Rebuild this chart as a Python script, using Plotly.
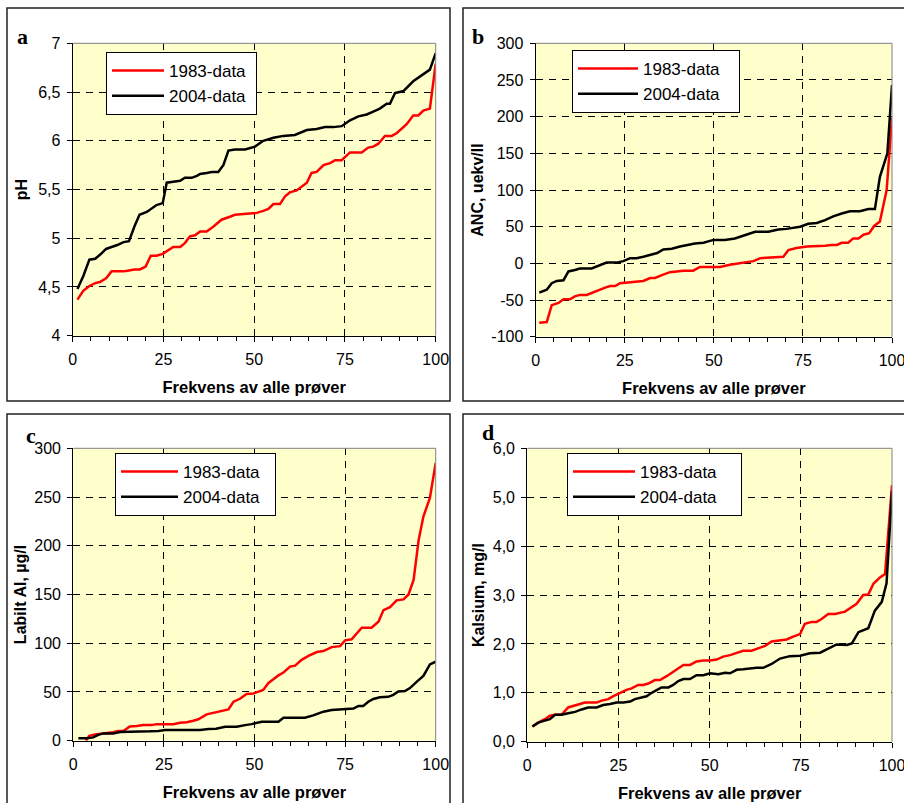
import plotly.graph_objects as go

W, H = 904, 803

# ---------------- DATA ----------------
A_X_1983 = [1.3, 2.9, 4.6, 6.2, 7.5, 9.2, 10.7, 12.3, 14, 15.5, 17, 18.5, 20.1, 21.5, 23.1, 24.8, 26.4, 27.7, 29.6, 30.9,
            32.3, 33.7, 35.1, 36.9, 38.8, 41, 43.3, 44.7, 47.9, 50.7, 52.5, 53.9, 55.3, 57.1, 58.5, 59.8, 61.7, 63.1, 64.5, 65.8,
            67.2, 69.1, 70.9, 72.3, 74.1, 76.4, 79.6, 81.4, 82.8, 84.2, 86, 87.9, 89.3, 92, 93.8, 95.2, 96.6, 98.4, 100]
A_PH_1983 = [4.37, 4.46, 4.51, 4.54, 4.55, 4.59, 4.66, 4.66, 4.66, 4.67, 4.68, 4.68, 4.71, 4.82, 4.82, 4.84, 4.88, 4.91, 4.91, 4.95,
             5.02, 5.03, 5.07, 5.07, 5.12, 5.19, 5.22, 5.24, 5.25, 5.26, 5.28, 5.30, 5.35, 5.35, 5.43, 5.47, 5.49, 5.53, 5.57, 5.67,
             5.68, 5.75, 5.77, 5.80, 5.80, 5.88, 5.88, 5.93, 5.94, 5.97, 6.05, 6.05, 6.08, 6.17, 6.26, 6.26, 6.31, 6.33, 6.79]
A_X_2004 = [1.3, 2.9, 4.6, 6.2, 7.5, 9.2, 10.7, 12.3, 14, 15.5, 17, 18.4, 20.4, 21.8, 23.1, 24.8, 25.9, 27.7, 29.6, 30.9,
            32.8, 34.2, 35.1, 36.9, 38.3, 40.1, 41.5, 42.9, 44.7, 47.5, 50.2, 52.5, 55.3, 58, 61.2, 64.5, 67.2, 69.5, 71.8, 74.1,
            76.4, 78.7, 81, 82.8, 84.6, 86.5, 87.4, 88.8, 91.1, 93.8, 96.1, 98.4, 100]
A_PH_2004 = [4.48, 4.61, 4.78, 4.79, 4.83, 4.89, 4.91, 4.93, 4.96, 4.97, 5.12, 5.24, 5.27, 5.31, 5.34, 5.36, 5.57, 5.58, 5.59, 5.62,
             5.62, 5.64, 5.66, 5.67, 5.68, 5.68, 5.75, 5.90, 5.91, 5.91, 5.94, 6.00, 6.03, 6.05, 6.06, 6.11, 6.12, 6.14, 6.14, 6.15,
             6.21, 6.25, 6.27, 6.30, 6.33, 6.38, 6.38, 6.49, 6.51, 6.61, 6.67, 6.73, 6.90]

B_X_1983 = [1, 3.1, 4.5, 6.4, 7.8, 9.6, 11, 12.4, 14.3, 16.2, 17.6, 19.5, 20.9, 22.3, 23.7, 26.5, 28.3, 30.2, 32.1, 33.5,
            35.4, 37.7, 39.6, 41.4, 44.2, 46.1, 48.5, 51.7, 54.5, 56.9, 59.2, 61.1, 63, 65.3, 67.2, 69.5, 70.9, 73.2, 76.1, 78.9,
            81.2, 83.1, 84.5, 85.9, 87.7, 89.1, 90.6, 92, 93.6, 95, 96.6, 98.5, 100]
B_ANC_1983 = [-81, -80, -57, -54, -49, -49, -45, -43, -43, -39, -36, -33, -31, -31, -27, -26, -25, -24, -20, -20,
              -16, -12, -11, -10, -10, -5, -5, -5, -2, 0, 1, 3, 7, 8, 9, 9, 18, 21, 23, 23,
              24, 25, 25, 28, 28, 34, 34, 39, 41, 51, 57, 100, 199]
B_X_2004 = [1, 3.1, 4.5, 5.9, 7.8, 9.2, 11, 12.4, 15.7, 17.6, 19.9, 22.7, 24.6, 26.5, 28.3, 30.2, 32.1, 34.1, 35.8, 38.2,
            40.5, 42.8, 44.7, 47.1, 49.9, 53.1, 55.9, 57.8, 59.7, 61.6, 65.3, 68.1, 70.4, 74.2, 76.5, 78.9, 81.2, 83.5, 85.9, 88.2,
            91, 93.4, 95.2, 96.6, 98.7, 100]
B_ANC_2004 = [-40, -36, -27, -24, -23, -11, -9, -7, -7, -3, 1, 1, 3, 7, 7, 9, 11, 14, 19, 20,
              23, 25, 27, 28, 32, 32, 34, 37, 40, 43, 43, 46, 47, 50, 54, 55, 59, 64, 68, 71,
              71, 74, 74, 118, 150, 243]

C_X_1983 = [3.5, 4.4, 6, 7.4, 9.2, 11, 12.4, 13.8, 15.6, 17.5, 19.3, 21.6, 23, 25.8, 27.6, 29.4, 31.3, 33.1, 34.5, 36.8,
            39.1, 41, 42.8, 44.2, 46, 47.8, 49.7, 52.4, 53.8, 55.2, 56.6, 58, 59.8, 61.2, 63, 64.9, 67.2, 69, 71.3, 73.6,
            75, 76.8, 79.6, 82.3, 84.2, 85.6, 87.4, 89.2, 91.1, 92.5, 93.9, 95.3, 96.6, 98.4, 100]
C_AL_1983 = [0, 5, 6.5, 7.5, 8, 8.6, 10, 10, 14.5, 15, 16, 16, 17, 17, 17, 18.5, 19, 20.5, 22, 27,
             29, 30, 32, 40, 43, 48, 48.5, 52, 59, 63, 67, 70, 76, 77, 83, 87, 91, 92, 96, 97,
             103, 104, 116, 116, 122, 134, 137, 144, 145, 150, 165, 206, 230, 249, 285]
C_X_2004 = [1.4, 3.7, 5.5, 6.9, 8.3, 11, 12.9, 14.7, 16.1, 18.4, 21.2, 23.5, 25.3, 28.5, 31.3, 35, 37.3, 39.4, 41.9, 45.1,
            47.4, 49.2, 52, 54.7, 56.6, 58, 60.7, 63.9, 66.2, 69, 71.3, 73.6, 75.9, 77.3, 78.7, 80, 81.4, 82.8, 84.6, 86.9,
            88.3, 89.7, 91.5, 92.9, 94.8, 96.6, 98.4, 100]
C_AL_2004 = [2.4, 2.4, 3.4, 6, 7.5, 7.5, 9, 9, 9.6, 9.6, 9.6, 10, 11, 11, 11, 11, 12, 12.3, 14.4, 14.4,
             16, 17, 19.5, 19.5, 19.5, 23.6, 23.6, 23.6, 26, 29.8, 31.5, 32, 33, 33, 35.6, 35.6, 40, 42.8, 44.5, 45,
             47, 50.5, 51, 54, 60.6, 66.4, 78.3, 81]

D_X_1983 = [1.4, 3, 4.8, 6.2, 7.6, 9.4, 11.2, 12.6, 14.4, 15.8, 17.6, 19, 20.4, 22.2, 23.6, 25.4, 27.2, 28.6, 30.4, 31.8,
            33.2, 35, 36.4, 38.2, 39.6, 41.4, 42.8, 44.6, 46.4, 48.3, 50.1, 51.9, 53.7, 55.6, 57.4, 59.2, 61.5, 63.3, 65.2, 67,
            68.8, 71.1, 72.9, 74.8, 76.1, 78, 79.3, 80.7, 82.5, 84.4, 87.1, 88.5, 90.3, 92.1, 93.5, 94.9, 96.7, 98.1, 100]
D_CA_1983 = [0.31, 0.39, 0.46, 0.53, 0.55, 0.55, 0.70, 0.73, 0.76, 0.80, 0.80, 0.80, 0.84, 0.87, 0.93, 1.00, 1.06, 1.09, 1.16, 1.16,
             1.19, 1.26, 1.26, 1.34, 1.41, 1.50, 1.57, 1.57, 1.64, 1.66, 1.66, 1.68, 1.74, 1.77, 1.82, 1.86, 1.86, 1.91, 1.96, 2.05,
             2.07, 2.09, 2.15, 2.20, 2.41, 2.45, 2.45, 2.51, 2.61, 2.61, 2.66, 2.73, 2.82, 3.00, 3.01, 3.23, 3.36, 3.43, 5.25]
D_X_2004 = [1.4, 3, 4.8, 6.2, 7.6, 9.4, 11.2, 13.1, 14.9, 16.7, 19, 20.8, 22.7, 24.5, 26.3, 28.2, 29.5, 31.4, 32.7, 34.1,
            35.5, 36.8, 38.7, 40, 41.4, 42.8, 44.6, 46.4, 48.3, 50.1, 52.4, 54.2, 55.6, 57.4, 59.2, 61.1, 62.9, 64.7, 67, 69.3,
            72, 74.8, 77.5, 80.3, 82.5, 84.8, 87.6, 89, 90.8, 93.5, 95.3, 97.2, 98.5, 100]
D_CA_2004 = [0.31, 0.39, 0.43, 0.46, 0.55, 0.55, 0.58, 0.61, 0.66, 0.70, 0.70, 0.75, 0.77, 0.80, 0.80, 0.82, 0.87, 0.90, 0.93, 1.00,
             1.06, 1.11, 1.11, 1.16, 1.24, 1.28, 1.28, 1.36, 1.36, 1.40, 1.38, 1.41, 1.40, 1.47, 1.48, 1.50, 1.51, 1.51, 1.59, 1.70,
             1.75, 1.76, 1.81, 1.82, 1.91, 1.99, 1.98, 2.01, 2.24, 2.32, 2.68, 2.86, 3.24, 5.13]

X_TICKS = [0, 25, 50, 75, 100]
X_TICKTEXT = ["0", "25", "50", "75", "100"]
A_YTICKS = [4, 4.5, 5, 5.5, 6, 6.5, 7]
A_YTEXT = ["4", "4,5", "5", "5,5", "6", "6,5", "7"]
B_YTICKS = [-100, -50, 0, 50, 100, 150, 200, 250, 300]
B_YTEXT = ["-100", "-50", "0", "50", "100", "150", "200", "250", "300"]
C_YTICKS = [0, 50, 100, 150, 200, 250, 300]
C_YTEXT = ["0", "50", "100", "150", "200", "250", "300"]
D_YTICKS = [0, 1, 2, 3, 4, 5, 6]
D_YTEXT = ["0,0", "1,0", "2,0", "3,0", "4,0", "5,0", "6,0"]

SERIES_NAMES = ["1983-data", "2004-data"]
SERIES_COLORS = ["#ff0000", "#000000"]
PANEL_LETTERS = ["a", "b", "c", "d"]
Y_TITLES = ["pH", "ANC, uekv/ll", "Labilt Al, µg/l", "Kalsium, mg/l"]
X_TITLE = "Frekvens av alle prøver"

# ---------------- LAYOUT (pixel geometry) ----------------
AREAS = [(72.7, 43.3, 435.7, 335.7), (535.7, 43.3, 892, 336.7),
         (73.3, 448.3, 435.7, 740.7), (527.3, 448.3, 892, 741.7)]
LEGENDS = [(106, 52), (572, 50), (115, 453), (567, 453)]
LEG_ITEMW = [52, 60, 57, 62]
LEG_PAD = [1, 3, 2, 4]
LETTER_POS = [(22, 37), (478, 37), (31, 436), (488, 432)]
YRANGES = [(4, 7), (-100, 300), (0, 300), (0, 6)]
YTICKS = [(A_YTICKS, A_YTEXT), (B_YTICKS, B_YTEXT), (C_YTICKS, C_YTEXT), (D_YTICKS, D_YTEXT)]
YSTANDOFF = [6, 3, 3, 4]
DATA = [(A_X_1983, A_PH_1983, A_X_2004, A_PH_2004),
        (B_X_1983, B_ANC_1983, B_X_2004, B_ANC_2004),
        (C_X_1983, C_AL_1983, C_X_2004, C_AL_2004),
        (D_X_1983, D_CA_1983, D_X_2004, D_CA_2004)]

FONT = "Liberation Sans, Arial, sans-serif"

fig = go.Figure()
layout = dict(width=W, height=H, margin=dict(l=0, r=0, t=0, b=0),
              paper_bgcolor="white", plot_bgcolor="#ffffcc", showlegend=True,
              font=dict(family=FONT, color="black", size=14))
shapes = []
annotations = []

for i in range(4):
    sfx = "" if i == 0 else str(i + 1)
    xa, ya = "x" + sfx, "y" + sfx
    l, t, r, b = AREAS[i]
    leg = "legend" + sfx
    x1, y1, x2, y2 = DATA[i]
    pad = "\u00a0" * LEG_PAD[i]
    for k, (xs, ys) in enumerate([(x1, y1), (x2, y2)]):
        fig.add_trace(go.Scatter(x=xs, y=ys, mode="lines", name=SERIES_NAMES[k] + pad,
                                 line=dict(color=SERIES_COLORS[k], width=2.5),
                                 xaxis=xa, yaxis=ya, legend=leg,
                                 legendgroup=f"g{i}{k}"))
    layout["xaxis" + sfx] = dict(
        domain=[l / W, r / W], anchor=ya, range=[0, 100],
        tickvals=X_TICKS, ticktext=X_TICKTEXT, ticks="outside", ticklen=5, tickcolor="black",
        minor=dict(dtick=5, ticks="outside", ticklen=4, tickcolor="black", showgrid=False),
        showgrid=True, gridcolor="black", gridwidth=1, griddash="7px,6px",
        showline=True, linecolor="black", linewidth=1.2, zeroline=False,
        tickfont=dict(size=16, family=FONT), automargin=False, ticklabelstandoff=4,
        ticklabeloverflow="allow",
        title=dict(text=X_TITLE, font=dict(size=16.5, family=FONT, weight="bold"), standoff=14),
    )
    tv, tt = YTICKS[i]
    layout["yaxis" + sfx] = dict(
        domain=[1 - b / H, 1 - t / H], anchor=xa, range=list(YRANGES[i]),
        tickvals=tv, ticktext=tt, ticks="outside", ticklen=5, tickcolor="black",
        showgrid=True, gridcolor="black", gridwidth=1, griddash="7px,6px",
        showline=True, linecolor="black", linewidth=1.2, zeroline=False,
        tickfont=dict(size=16, family=FONT), automargin=False, ticklabelstandoff=3,
        ticklabeloverflow="allow",
        title=dict(text=Y_TITLES[i], font=dict(size=16, family=FONT, weight="bold"), standoff=YSTANDOFF[i]),
    )
    lx, ly = LEGENDS[i]
    layout[leg] = dict(x=lx / W, y=1 - ly / H, xanchor="left", yanchor="top",
                       bgcolor="white", bordercolor="black", borderwidth=1,
                       font=dict(size=17, family=FONT), itemwidth=LEG_ITEMW[i],
                       tracegroupgap=0)
    shapes.append(dict(type="line", xref="paper", yref="paper", x0=l / W, x1=r / W,
                       y0=1 - t / H, y1=1 - t / H, line=dict(color="#808080", width=1)))
    shapes.append(dict(type="line", xref="paper", yref="paper", x0=r / W, x1=r / W,
                       y0=1 - t / H, y1=1 - b / H, line=dict(color="#808080", width=1)))
    px_, py_ = LETTER_POS[i]
    annotations.append(dict(text="<b>" + PANEL_LETTERS[i] + "</b>", xref="paper", yref="paper",
                            x=px_ / W, y=1 - py_ / H, showarrow=False, xanchor="center", yanchor="middle",
                            font=dict(family="Liberation Serif, Times New Roman, serif", size=22, color="black")))

FRAMES = [(7, 8, 450, 401), (463, 8, 910, 401), (7, 414, 450, 810), (463, 414, 910, 810)]
for (x0, y0, x1, y1) in FRAMES:
    shapes.append(dict(type="rect", xref="paper", yref="paper", x0=x0 / W, x1=x1 / W,
                       y0=1 - y0 / H, y1=1 - y1 / H, line=dict(color="#222222", width=1.5),
                       fillcolor="rgba(0,0,0,0)", layer="below"))

layout["shapes"] = shapes
layout["annotations"] = annotations
fig.update_layout(**layout)
fig.write_html("out.html", config={"displayModeBar": False},
               post_script="document.body.style.margin='0px';document.body.style.overflow='hidden';")
